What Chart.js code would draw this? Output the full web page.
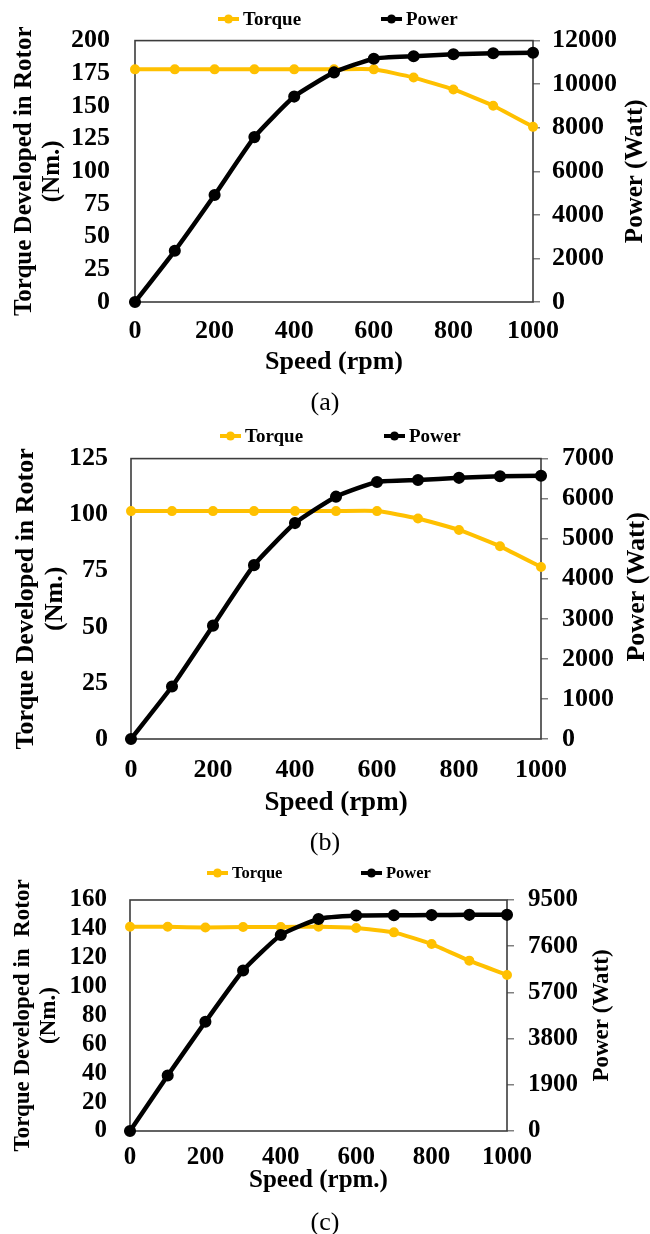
<!DOCTYPE html>
<html>
<head>
<meta charset="utf-8">
<script src="https://cdn.jsdelivr.net/npm/chart.js@4.4.1/dist/chart.umd.min.js"></script>
<style>
  body { margin: 0; background: #fff; width: 650px; height: 1234px; overflow: hidden; }
  .fig { position: absolute; left: 0; width: 650px; }
</style>
</head>
<body>
<div class="fig" style="top:0px"><canvas id="chartA" width="650" height="420"></canvas></div>
<div class="fig" style="top:420px"><canvas id="chartB" width="650" height="442"></canvas></div>
<div class="fig" style="top:862px"><canvas id="chartC" width="650" height="372"></canvas></div>
<script>
// speed (rpm) at every marker
var speed = [0, 100, 200, 300, 400, 500, 600, 700, 800, 900, 1000];
var speedTicks = [0, 200, 400, 600, 800, 1000];

// (a)
var torqueA = [178, 178, 178, 178, 178, 178, 178, 171.7, 162.6, 150.2, 134];
var powerA = [0, 2350, 4910, 7570, 9430, 10540, 11170, 11280, 11370, 11420, 11440];
var torqueTicksA = [0, 25, 50, 75, 100, 125, 150, 175, 200];
var powerTicksA = [0, 2000, 4000, 6000, 8000, 10000, 12000];

// (b)
var torqueB = [101.6, 101.6, 101.6, 101.6, 101.6, 101.6, 101.6, 98.3, 93.2, 85.9, 76.7];
var powerB = [0, 1310, 2830, 4340, 5390, 6050, 6415, 6465, 6520, 6560, 6570];
var torqueTicksB = [0, 25, 50, 75, 100, 125];
var powerTicksB = [0, 1000, 2000, 3000, 4000, 5000, 6000, 7000];

// (c)
var torqueC = [141.5, 141.5, 140.9, 141.3, 141.3, 141.5, 140.6, 137.6, 129.5, 118, 108];
var powerC = [0, 2280, 4490, 6600, 8060, 8720, 8860, 8875, 8880, 8890, 8890];
var torqueTicksC = [0, 20, 40, 60, 80, 100, 120, 140, 160];
var powerTicksC = [0, 1900, 3800, 5700, 7600, 9500];

Chart.defaults.color = '#000';
Chart.defaults.font.family = '"Liberation Serif", "Times New Roman", serif';

var GOLD = '#FFC000';

// legend with line+marker icons, plot frame and bottom-to-top right title
var figurePlugin = {
  id: 'figure',
  beforeDatasetsDraw: function(chart) {
    var a = chart.chartArea, ctx = chart.ctx;
    ctx.save();
    ctx.strokeStyle = '#3c3c3c';
    ctx.lineWidth = 1.6;
    ctx.strokeRect(a.left, a.top, a.right - a.left, a.bottom - a.top);
    ctx.restore();
  },
  afterDraw: function(chart, args, opts) {
    var ctx = chart.ctx, a = chart.chartArea;
    ctx.save();
    ctx.font = 'bold ' + opts.legendSize + 'px "Liberation Serif"';
    ctx.textBaseline = 'middle';
    chart.data.datasets.forEach(function(ds, i) {
      var x = opts.legendX[i], y = opts.legendY;
      ctx.strokeStyle = ds.borderColor;
      ctx.lineWidth = 4;
      ctx.beginPath(); ctx.moveTo(x, y); ctx.lineTo(x + 21, y); ctx.stroke();
      ctx.fillStyle = ds.borderColor;
      ctx.beginPath(); ctx.arc(x + 10.5, y, 4.5, 0, Math.PI * 2); ctx.fill();
      ctx.fillStyle = '#000';
      ctx.fillText(ds.label, x + 25, y + 1);
    });
    ctx.font = 'bold ' + opts.rightSize + 'px "Liberation Serif"';
    ctx.textAlign = 'center';
    ctx.translate(opts.rightX, (a.top + a.bottom) / 2 + opts.rightDy);
    ctx.rotate(-Math.PI / 2);
    ctx.fillText(opts.rightTitle, 0, 0);
    ctx.restore();
  }
};

function points(ys) {
  return speed.map(function(s, i) { return {x: s, y: ys[i]}; });
}

function setTicks(list) {
  return function(scale) { scale.ticks = list.map(function(v) { return {value: v}; }); };
}

function plain(v) { return String(v); }

function makeChart(id, L, torque, power, tTicks, pTicks, xTitle, caption) {
  var lht = L.tickSize * 1.2;
  var lhx = L.xTitleSize * 1.2;
  var lhc = 26 * 0.85;
  var lhl = L.titleSize * 1.12;
  var xBottom = L.capY - lhc / 2;
  var tickFont = {size: L.tickSize, weight: 'bold'};

  new Chart(id, {
    type: 'line',
    data: {
      datasets: [{
        label: 'Torque',
        data: points(torque),
        borderColor: GOLD,
        backgroundColor: GOLD,
        borderWidth: 4,
        pointRadius: 3,
        tension: 0.15,
        clip: false,
        yAxisID: 'y',
        order: 1
      }, {
        label: 'Power',
        data: points(power),
        borderColor: '#000',
        backgroundColor: '#000',
        borderWidth: 4.5,
        pointRadius: 3.8,
        tension: 0.15,
        clip: false,
        yAxisID: 'y1',
        order: 0
      }]
    },
    options: {
      responsive: false,
      animation: false,
      layout: {padding: {top: L.plotT, left: 0, right: 0, bottom: 0}},
      plugins: {
        legend: {display: false},
        tooltip: {enabled: false},
        title: {
          display: true,
          position: 'bottom',
          text: caption,
          font: {size: 26, weight: 'normal', lineHeight: 0.85},
          padding: {top: 0, bottom: L.H - L.capY - lhc / 2}
        },
        figure: {
          legendX: L.legendX, legendY: L.legendY, legendSize: L.legendSize,
          rightTitle: 'Power (Watt)', rightX: L.rightX, rightDy: L.rightDy, rightSize: L.titleSize
        }
      },
      scales: {
        x: {
          type: 'linear',
          min: 0, max: 1000,
          afterBuildTicks: setTicks(speedTicks),
          afterFit: function(s) { s.height = xBottom - L.plotB; },
          grid: {display: false, drawTicks: false},
          border: {display: false},
          ticks: {font: tickFont, padding: L.xLabY - L.plotB - lht / 2, maxRotation: 0, autoSkip: false, callback: plain},
          title: {
            display: true, text: xTitle,
            font: {size: L.xTitleSize, weight: 'bold'},
            padding: {top: 0, bottom: xBottom - L.xTitleY - lhx / 2}
          }
        },
        y: {
          position: 'left',
          min: 0, max: tTicks[tTicks.length - 1],
          afterBuildTicks: setTicks(tTicks),
          afterFit: function(s) { s.width = L.plotL; },
          grid: {display: false, drawTicks: false},
          border: {display: false},
          ticks: {font: tickFont, padding: L.plotL - L.labRight, autoSkip: false, callback: plain},
          title: {
            display: true,
            text: [L.leftTitle, '(Nm.)'],
            font: {size: L.titleSize, weight: 'bold', lineHeight: 1.12},
            padding: {top: L.leftLine1 - lhl / 2, bottom: 0}
          }
        },
        y1: {
          position: 'right',
          min: 0, max: pTicks[pTicks.length - 1],
          afterBuildTicks: setTicks(pTicks),
          afterFit: function(s) { s.width = 650 - L.plotR; },
          grid: {display: true, drawOnChartArea: false, drawTicks: true, tickLength: 7, color: '#808080', lineWidth: 1.5},
          border: {display: false},
          ticks: {font: tickFont, padding: L.rightPad, autoSkip: false, callback: plain}
        }
      }
    },
    plugins: [figurePlugin]
  });
}

makeChart('chartA', {
  H: 420, plotL: 135, plotR: 533, plotT: 33, plotB: 302, labRight: 110, rightPad: 12,
  xLabY: 331, xTitleY: 362, capY: 403, tickSize: 26, titleSize: 25, xTitleSize: 26,
  leftTitle: 'Torque Developed in Rotor', leftLine1: 25,
  legendY: 19, legendX: [218, 381], legendSize: 19, rightX: 636, rightDy: 0
}, torqueA, powerA, torqueTicksA, powerTicksA, 'Speed (rpm)', '(a)');

makeChart('chartB', {
  H: 442, plotL: 131, plotR: 541, plotT: 32, plotB: 319, labRight: 108, rightPad: 14,
  xLabY: 350, xTitleY: 383, capY: 423, tickSize: 26, titleSize: 26, xTitleSize: 27,
  leftTitle: 'Torque Developed in Rotor', leftLine1: 26,
  legendY: 16, legendX: [220, 384], legendSize: 19, rightX: 637, rightDy: -12
}, torqueB, powerB, torqueTicksB, powerTicksB, 'Speed (rpm)', '(b)');

makeChart('chartC', {
  H: 372, plotL: 130, plotR: 507, plotT: 21, plotB: 269, labRight: 107, rightPad: 14,
  xLabY: 296, xTitleY: 319, capY: 361, tickSize: 25, titleSize: 23, xTitleSize: 25,
  leftTitle: 'Torque Developed in  Rotor', leftLine1: 23,
  legendY: 11, legendX: [207, 361], legendSize: 16.5, rightX: 602, rightDy: 0
}, torqueC, powerC, torqueTicksC, powerTicksC, 'Speed (rpm.)', '(c)');
</script>
</body>
</html>
